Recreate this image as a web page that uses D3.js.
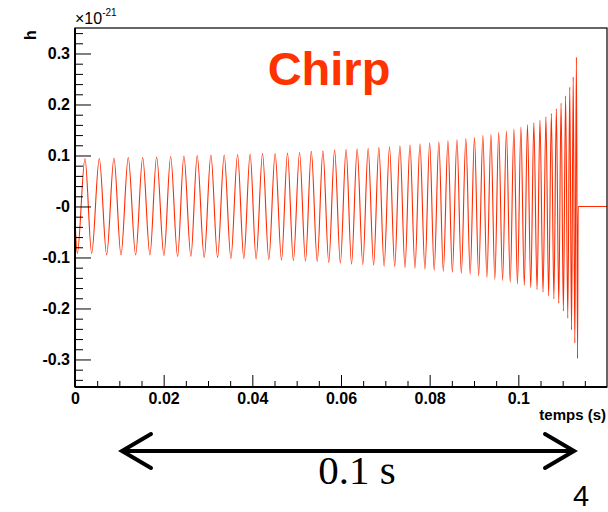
<!DOCTYPE html>
<html>
<head>
<meta charset="utf-8">
<script src="https://cdn.jsdelivr.net/npm/d3@7"></script>
<style>
  body { margin: 0; background: #fff; }
  svg { display: block; }
</style>
</head>
<body>
<svg id="chart" width="608" height="512"></svg>
<script>
// Strain waveform of the chirp: successive turning points (time in ms, h in units of 1e-21)
const timesMs = [
  0, 0.52, 2.25, 3.76, 5.48, 7.14, 8.79, 10.37, 12.01, 13.68, 15.26,
  16.90, 18.41, 20.06, 21.57, 23.14, 24.56, 26.14, 27.56, 29.14, 30.65,
  32.16, 33.65, 35.16, 36.67, 38.08, 39.50, 40.85, 42.30, 43.72, 45.14,
  46.58, 47.93, 49.25, 50.65, 51.99, 53.30, 54.64, 55.92, 57.24, 58.55,
  59.86, 61.14, 62.38, 63.64, 64.92, 66.12, 67.36, 68.54, 69.72, 70.94,
  72.11, 73.29, 74.43, 75.56, 76.68, 77.81, 78.93, 80.00, 81.02, 82.07,
  83.08, 84.12, 85.12, 86.15, 87.14, 88.16, 89.14, 90.10, 91.05, 92.00,
  92.91, 93.82, 94.70, 95.57, 96.45, 97.31, 98.17, 99.00, 99.80, 100.58,
  101.34, 102.06, 102.80, 103.50, 104.22, 104.88, 105.57, 106.22, 106.84, 107.45,
  108.02, 108.57, 109.12, 109.64, 110.16, 110.66, 111.15, 111.60, 112.00, 112.38,
  112.74, 113.10, 113.35, 113.50, 120.0
];
const strain = [
  -0.025, -0.092, 0.094, -0.092, 0.094, -0.095, 0.095, -0.095, 0.096, -0.095, 0.096,
  -0.095, 0.097, -0.096, 0.098, -0.098, 0.099, -0.098, 0.100, -0.100, 0.101,
  -0.100, 0.101, -0.102, 0.102, -0.102, 0.103, -0.103, 0.104, -0.104, 0.104,
  -0.105, 0.105, -0.106, 0.106, -0.107, 0.108, -0.108, 0.109, -0.110, 0.111,
  -0.111, 0.112, -0.113, 0.113, -0.114, 0.114, -0.115, 0.116, -0.117, 0.117,
  -0.118, 0.119, -0.120, 0.121, -0.121, 0.123, -0.123, 0.125, -0.125, 0.127,
  -0.127, 0.129, -0.129, 0.131, -0.131, 0.133, -0.133, 0.135, -0.136, 0.139,
  -0.139, 0.141, -0.143, 0.145, -0.145, 0.148, -0.149, 0.152, -0.152, 0.156,
  -0.155, 0.160, -0.159, 0.164, -0.163, 0.169, -0.168, 0.176, -0.175, 0.182,
  -0.181, 0.192, -0.190, 0.203, -0.205, 0.217, -0.219, 0.234, -0.242, 0.254,
  -0.268, 0.293, -0.298, 0, 0
];

const xTicks = [0, 0.02, 0.04, 0.06, 0.08, 0.1];
const xTickLabels = ["0", "0.02", "0.04", "0.06", "0.08", "0.1"];
const yTicks = [0.3, 0.2, 0.1, 0, -0.1, -0.2, -0.3];
const yTickLabels = ["0.3", "0.2", "0.1", "-0", "-0.1", "-0.2", "-0.3"];

const svg = d3.select("#chart");
const frameLeft = 75, frameRight = 607, frameTop = 28, frameBottom = 387;

const x = d3.scaleLinear().domain([0, 0.12]).range([frameLeft, frameRight]);
const y = d3.scaleLinear().domain([-0.354, 0.35]).range([frameBottom, frameTop]);

const labelFont = "'Liberation Sans', Arial, Helvetica, sans-serif";

// waveform
const pts = timesMs.map((t, i) => [t / 1000, strain[i]]);
const line = d3.line()
  .x(d => x(d[0]))
  .y(d => y(d[1]))
  .curve(d3.curveMonotoneX);

svg.append("path")
  .datum(pts)
  .attr("d", line)
  .attr("fill", "none")
  .attr("stroke", "#ff2a00")
  .attr("stroke-width", 1.1);

// minor ticks
const xMinor = d3.range(0, 0.1201, 0.005).filter(v => Math.abs(v / 0.02 - Math.round(v / 0.02)) > 1e-6);
const yMinor = d3.range(-0.34, 0.3401, 0.02).filter(v => Math.abs(v / 0.1 - Math.round(v / 0.1)) > 1e-6);

const gxMinor = svg.append("g").attr("transform", `translate(0,${frameBottom})`)
  .call(d3.axisBottom(x).tickValues(xMinor).tickSize(-6).tickFormat(""));
const gyMinor = svg.append("g").attr("transform", `translate(${frameLeft},0)`)
  .call(d3.axisLeft(y).tickValues(yMinor).tickSize(-8).tickFormat(""));

// major ticks with labels
const gx = svg.append("g").attr("transform", `translate(0,${frameBottom})`)
  .call(d3.axisBottom(x).tickValues(xTicks).tickSize(-12).tickPadding(5)
    .tickFormat((d, i) => xTickLabels[i]));
const gy = svg.append("g").attr("transform", `translate(${frameLeft},0)`)
  .call(d3.axisLeft(y).tickValues(yTicks).tickSize(-16).tickPadding(5)
    .tickFormat((d, i) => yTickLabels[i]));

[gxMinor, gyMinor, gx, gy].forEach(g => {
  g.select(".domain").remove();
  g.selectAll("line").attr("stroke", "#000").attr("stroke-width", 1);
  g.selectAll("text")
    .attr("fill", "#000")
    .style("font-family", labelFont)
    .style("font-weight", "bold")
    .style("font-size", "16px");
});
gx.selectAll("text").attr("dy", "0.75em");

// frame
svg.append("rect")
  .attr("x", frameLeft).attr("y", frameTop)
  .attr("width", frameRight - frameLeft).attr("height", frameBottom - frameTop)
  .attr("fill", "none").attr("stroke", "#000").attr("stroke-width", 1.2);
svg.append("line")
  .attr("x1", frameLeft).attr("x2", frameLeft).attr("y1", frameTop).attr("y2", frameBottom)
  .attr("stroke", "#000").attr("stroke-width", 2);
svg.append("line")
  .attr("x1", frameLeft).attr("x2", frameRight).attr("y1", frameBottom).attr("y2", frameBottom)
  .attr("stroke", "#000").attr("stroke-width", 2);

// axis titles
svg.append("text")
  .attr("transform", "translate(36,35) rotate(-90)")
  .attr("text-anchor", "middle")
  .style("font-family", labelFont).style("font-weight", "bold").style("font-size", "16px")
  .text("h");

svg.append("text")
  .attr("x", 606).attr("y", 420)
  .attr("text-anchor", "end")
  .style("font-family", labelFont).style("font-weight", "bold").style("font-size", "15px")
  .text("temps (s)");

const expo = svg.append("text")
  .attr("x", 75).attr("y", 24)
  .style("font-family", labelFont).style("font-size", "16px");
expo.append("tspan").text("\u00d710");
expo.append("tspan").attr("dy", -8).style("font-size", "10px").text("-21");

// title
svg.append("text")
  .attr("x", 329).attr("y", 85)
  .attr("text-anchor", "middle")
  .attr("fill", "#ff3300")
  .style("font-family", labelFont).style("font-weight", "bold").style("font-size", "47px")
  .text("Chirp");

// duration arrow
const arrowY = 451;
svg.append("line")
  .attr("x1", 122).attr("x2", 574).attr("y1", arrowY).attr("y2", arrowY)
  .attr("stroke", "#000").attr("stroke-width", 4);
svg.append("path")
  .attr("d", `M151,${arrowY - 17} L122,${arrowY} L151,${arrowY + 17}`)
  .attr("fill", "none").attr("stroke", "#000").attr("stroke-width", 4)
  .attr("stroke-linecap", "round").attr("stroke-linejoin", "miter");
svg.append("path")
  .attr("d", `M545,${arrowY - 17} L574,${arrowY} L545,${arrowY + 17}`)
  .attr("fill", "none").attr("stroke", "#000").attr("stroke-width", 4)
  .attr("stroke-linecap", "round").attr("stroke-linejoin", "miter");

svg.append("text")
  .attr("x", 357).attr("y", 484)
  .attr("text-anchor", "middle")
  .style("font-family", "'Liberation Serif', 'Times New Roman', serif")
  .style("font-size", "41px")
  .text("0.1 s");

svg.append("text")
  .attr("x", 581).attr("y", 506)
  .attr("text-anchor", "middle")
  .style("font-family", labelFont)
  .style("font-size", "29px")
  .text("4");
</script>
</body>
</html>
